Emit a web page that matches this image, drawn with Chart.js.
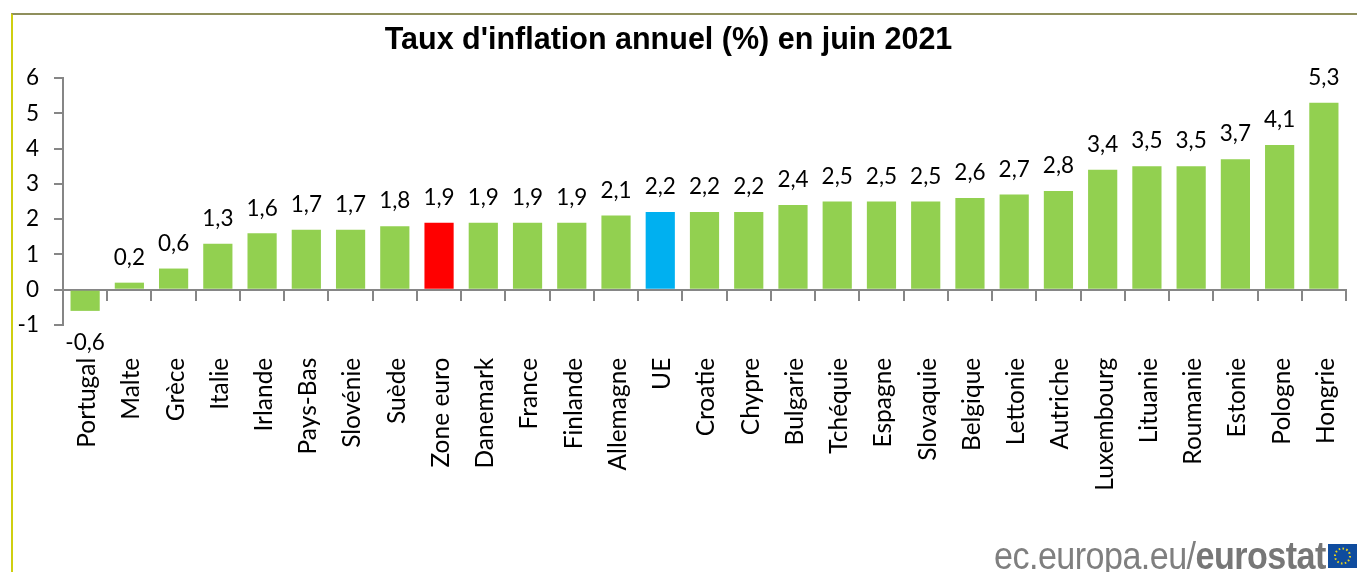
<!DOCTYPE html>
<html lang="fr">
<head>
<meta charset="utf-8">
<title>Taux d'inflation annuel</title>
<script src="https://cdn.jsdelivr.net/npm/chart.js@4"></script>
<style>
  html, body { margin: 0; padding: 0; background: #fff; overflow: hidden; }
  #wrap { position: relative; width: 1357px; height: 572px; overflow: hidden; }
  #cadre { position: absolute; left: 11px; top: 13px; right: 0; bottom: 0; border-left: 2px solid #cfcf10; border-top: 2px solid #8f8f5c; }
  #graph { position: absolute; left: 0; top: 0; }
  #titre { position: absolute; left: 0; width: 1337px; top: 21px; text-align: center; font: bold 30.5px "Liberation Sans", Arial, sans-serif; color: #000; white-space: nowrap; }
  #source { position: absolute; right: 31px; top: 535px; font: 38px "Liberation Sans", Arial, sans-serif; color: #7f7f7f; white-space: nowrap; letter-spacing: -0.6px; transform: scaleX(.897); transform-origin: right center; }
  #source b { color: #777; }
  #drapeau { position: absolute; left: 1328px; top: 544px; }
</style>
</head>
<body>
<div id="wrap">
  <div id="cadre"></div>
  <canvas id="graph" width="1357" height="572"></canvas>
  <div id="titre">Taux d'inflation annuel (%) en juin 2021</div>
  <div id="source">ec.europa.eu/<b>eurostat</b></div>
  <svg id="drapeau" width="29" height="24" viewBox="0 0 29 24">
    <rect width="29" height="24" fill="#0f4c9e"/>
    <circle cx="14.5" cy="12" r="7.5" fill="none" stroke="#e8d21d" stroke-width="2" stroke-dasharray="1.6 2.3"/>
  </svg>
</div>
<script>
// ── DONNÉES ───────────────────────────────────
const pays = ['Portugal', 'Malte', 'Grèce', 'Italie', 'Irlande', 'Pays-Bas', 'Slovénie', 'Suède', 'Zone euro', 'Danemark', 'France', 'Finlande', 'Allemagne', 'UE', 'Croatie', 'Chypre', 'Bulgarie', 'Tchéquie', 'Espagne', 'Slovaquie', 'Belgique', 'Lettonie', 'Autriche', 'Luxembourg', 'Lituanie', 'Roumanie', 'Estonie', 'Pologne', 'Hongrie'];
const taux = [-0.6, 0.2, 0.6, 1.3, 1.6, 1.7, 1.7, 1.8, 1.9, 1.9, 1.9, 1.9, 2.1, 2.2, 2.2, 2.2, 2.4, 2.5, 2.5, 2.5, 2.6, 2.7, 2.8, 3.4, 3.5, 3.5, 3.7, 4.1, 5.3];
const couleurs = { 'Zone euro': '#ff0000', 'UE': '#00b0f0' };
const vert = '#92d050';
const gris = '#868686';
const police = 'Lato, "Open Sans", sans-serif';

// étiquettes de valeur au-dessus / en dessous des barres
const etiquettes = {
  id: 'etiquettes',
  afterDatasetsDraw(chart) {
    const ctx = chart.ctx;
    ctx.save();
    ctx.font = '22.5px ' + police;
    ctx.fillStyle = '#000';
    ctx.textAlign = 'center';
    ctx.textBaseline = 'middle';
    chart.getDatasetMeta(0).data.forEach((bar, i) => {
      const y = taux[i] < 0 ? bar.y + 32 : bar.y - 25;
      ctx.fillText(taux[i].toFixed(1).replace('.', ','), bar.x, y);
    });
    ctx.restore();
  }
};

new Chart(document.getElementById('graph'), {
  type: 'bar',
  data: {
    labels: pays,
    datasets: [{
      data: taux,
      backgroundColor: pays.map(p => couleurs[p] || vert),
      barPercentage: 0.66,
      categoryPercentage: 1
    }]
  },
  plugins: [etiquettes],
  options: {
    responsive: false,
    animation: false,
    layout: { padding: { top: 78, bottom: 247, left: 0, right: 11 } },
    plugins: { legend: { display: false }, title: { display: false }, tooltip: { enabled: false } },
    scales: {
      x: {
        position: { y: 0 },
        afterFit: s => { s.paddingLeft = 0; s.paddingRight = 0; },
        grid: { offset: true, drawOnChartArea: false, drawTicks: true, tickLength: 10, color: gris, lineWidth: 2 },
        border: { color: gris, width: 2 },
        ticks: { autoSkip: false, minRotation: 90, maxRotation: 90, padding: 58, labelOffset: 2, color: '#000', font: { family: police, size: 24.5 } }
      },
      y: {
        min: -1,
        max: 6,
        afterFit: s => { s.width = 63; },
        grid: { drawOnChartArea: false, tickLength: 9, color: gris, lineWidth: 2 },
        border: { color: gris, width: 2 },
        ticks: { stepSize: 1, padding: 15, color: '#000', font: { family: police, size: 22.5 } }
      }
    }
  }
});
</script>
</body>
</html>
